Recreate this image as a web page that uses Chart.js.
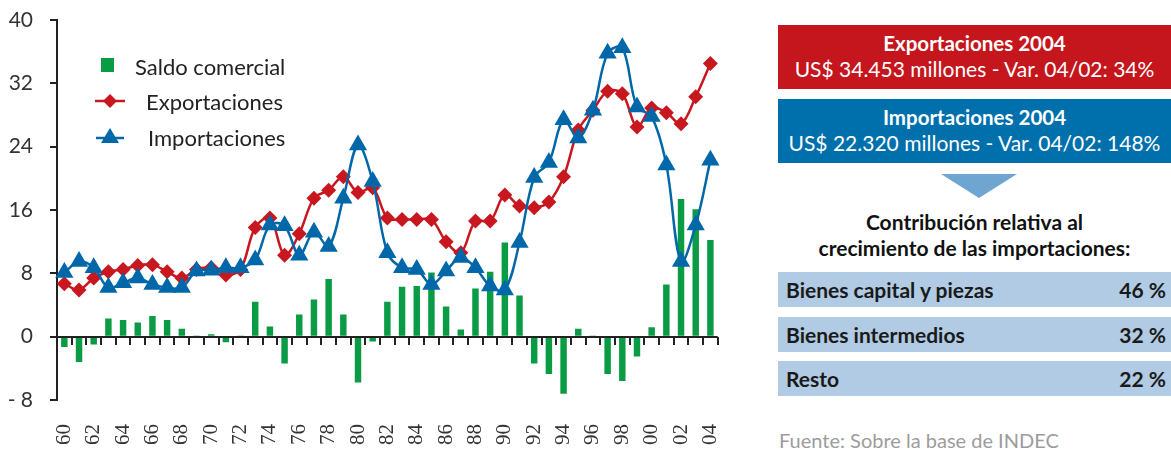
<!DOCTYPE html>
<html>
<head>
<meta charset="utf-8">
<script src="https://cdn.jsdelivr.net/npm/chart.js@4"></script>
<style>
  html, body { margin: 0; padding: 0; background: #fff; }
  body { width: 1171px; height: 450px; position: relative; overflow: hidden; font-family: Lato, "Noto Sans", sans-serif; }
  #chartBox { position: absolute; left: 0; top: 0; width: 760px; height: 450px; }
  .legend { position: absolute; left: 92px; top: 50px; font-size: 22px; color: #222; }
  .legend .item { position: absolute; left: 0; white-space: nowrap; height: 30px; }
  .legend svg { position: absolute; left: 0; top: 0; }
  .legend span { position: absolute; top: 1px; }
  .panel { position: absolute; left: 778px; top: 0; width: 393px; height: 450px; }
  .box { position: absolute; left: 0; width: 393px; height: 64px; color: #fff; text-align: center; }
  .box .t { font-weight: bold; font-size: 20.5px; line-height: 26px; margin-top: 5px; }
  .box .s { font-size: 21px; line-height: 26px; }
  .red { top: 25px; background: #C4161C; }
  .blue { top: 99px; background: #0070AD; }
  .arrow { position: absolute; left: 163px; top: 174px; width: 0; height: 0;
           border-left: 38px solid transparent; border-right: 38px solid transparent; border-top: 24px solid #6FA6D1; }
  .contrib { position: absolute; left: 0; top: 209px; width: 393px; text-align: center; font-weight: bold; font-size: 21px; line-height: 26px; color: #111; }
  .row { position: absolute; left: 0; width: 393px; height: 35px; background: #B0CBE3; font-weight: bold; font-size: 21px; color: #1a1a1a; }
  .row .l { position: absolute; left: 8px; top: 5px; }
  .row .r { position: absolute; right: 5px; top: 5px; }
  .src { position: absolute; left: 1px; top: 428px; font-size: 20px; color: #9c9c9c; white-space: nowrap; }
</style>
</head>
<body>
<div id="chartBox"><canvas id="chart"></canvas></div>

<div class="legend">
  <div class="item" style="top:2px">
    <svg width="40" height="30"><rect x="9" y="6" width="13" height="14" fill="#0A9B45"/></svg>
    <span style="left:43px">Saldo comercial</span>
  </div>
  <div class="item" style="top:37px">
    <svg width="40" height="30"><line x1="3" y1="14" x2="33" y2="14" stroke="#C8171F" stroke-width="2.5"/><polygon points="18,7 25,14 18,21 11,14" fill="#C8171F"/></svg>
    <span style="left:54px">Exportaciones</span>
  </div>
  <div class="item" style="top:73px">
    <svg width="40" height="30"><line x1="4" y1="15" x2="32" y2="15" stroke="#0067A9" stroke-width="2.5"/><polygon points="18,5 27,20 9,20" fill="#0067A9"/></svg>
    <span style="left:56px">Importaciones</span>
  </div>
</div>

<div class="panel">
  <div class="box red">
    <div class="t">Exportaciones 2004</div>
    <div class="s">US$ 34.453 millones - Var. 04/02: 34%</div>
  </div>
  <div class="box blue">
    <div class="t">Importaciones 2004</div>
    <div class="s">US$ 22.320 millones - Var. 04/02: 148%</div>
  </div>
  <div class="arrow"></div>
  <div class="contrib">Contribución relativa al<br>crecimiento de las importaciones:</div>
  <div class="row" style="top:272px"><span class="l">Bienes capital y piezas</span><span class="r">46 %</span></div>
  <div class="row" style="top:317px"><span class="l">Bienes intermedios</span><span class="r">32 %</span></div>
  <div class="row" style="top:361px"><span class="l">Resto</span><span class="r">22 %</span></div>
  <div class="src">Fuente: Sobre la base de INDEC</div>
</div>

<script>
// Years 1960-2004, two-digit labels
const years = ['60','61','62','63','64','65','66','67','68','69',
               '70','71','72','73','74','75','76','77','78','79',
               '80','81','82','83','84','85','86','87','88','89',
               '90','91','92','93','94','95','96','97','98','99',
               '00','01','02','03','04'];

// Saldo comercial (US$ miles de millones)
const saldo = [-1.3, -3.2, -1.0, 2.3, 2.1, 1.8, 2.6, 2.1, 1.0, 0.1,
               0.3, -0.7, 0.1, 4.4, 1.3, -3.4, 2.8, 4.7, 7.3, 2.8,
               -5.8, -0.6, 4.4, 6.3, 6.4, 8.1, 3.8, 0.9, 6.1, 8.2,
               11.9, 5.2, -3.4, -4.7, -7.2, 1.0, 0.1, -4.7, -5.6, -2.5,
               1.2, 6.6, 17.4, 16.1, 12.2];

const exportaciones = [6.7, 5.9, 7.4, 8.2, 8.5, 9.0, 9.1, 8.2, 7.4, 8.5,
                       8.7, 7.8, 8.5, 13.8, 15.0, 10.3, 13.0, 17.5, 18.5, 20.2,
                       18.2, 18.8, 15.0, 14.8, 14.8, 14.8, 12.0, 10.6, 14.6, 14.6,
                       17.9, 16.5, 16.3, 17.0, 20.2, 26.1, 28.6, 31.0, 30.7, 26.5,
                       28.9, 28.3, 26.9, 30.3, 34.5];

const importaciones = [8.1, 9.5, 8.7, 6.2, 6.8, 7.4, 6.6, 6.2, 6.2, 8.3,
                       8.4, 8.7, 8.7, 9.7, 14.1, 14.0, 10.3, 13.2, 11.4, 17.5,
                       24.2, 19.6, 10.6, 8.7, 8.5, 6.6, 8.3, 10.0, 8.7, 6.4,
                       5.9, 11.9, 20.1, 22.0, 27.4, 25.1, 28.6, 35.8, 36.5, 29.0,
                       27.8, 21.7, 9.5, 14.1, 22.3];

const yTicks = [-8, 0, 8, 16, 24, 32, 40];

// Zero line with tick marks at category boundaries
const zeroAxis = {
    id: 'zeroAxis',
    afterDatasetsDraw(chart) {
        const x = chart.scales.x;
        const y = chart.scales.y;
        const ctx = chart.ctx;
        const y0 = Math.round(y.getPixelForValue(0));
        const left = chart.chartArea.left;
        const right = chart.chartArea.right;
        ctx.save();
        ctx.strokeStyle = '#222';
        ctx.lineWidth = 2;
        ctx.beginPath();
        ctx.moveTo(left, y0);
        ctx.lineTo(right, y0);
        for (let i = 1; i <= years.length; i++) {
            let px = i < years.length
                ? (x.getPixelForValue(i - 1) + x.getPixelForValue(i)) / 2
                : right;
            px = Math.round(px);
            ctx.moveTo(px, y0);
            ctx.lineTo(px, y0 + 8);
        }
        ctx.stroke();
        ctx.restore();
    }
};

new Chart(document.getElementById('chart'), {
    type: 'bar',
    data: {
        labels: years,
        datasets: [
            {
                type: 'line',
                label: 'Importaciones',
                data: importaciones,
                borderColor: '#0067A9',
                backgroundColor: '#0067A9',
                borderWidth: 2.5,
                tension: 0.35,
                pointStyle: 'triangle',
                pointRadius: 10.5,
                pointBorderWidth: 0,
                order: 1
            },
            {
                type: 'line',
                label: 'Exportaciones',
                data: exportaciones,
                borderColor: '#C8171F',
                backgroundColor: '#C8171F',
                borderWidth: 2.5,
                tension: 0.35,
                pointStyle: 'rectRot',
                pointRadius: 7.5,
                pointBorderWidth: 0,
                order: 2
            },
            {
                label: 'Saldo comercial',
                data: saldo,
                backgroundColor: '#0A9B45',
                barPercentage: 0.44,
                categoryPercentage: 1,
                order: 3
            }
        ]
    },
    options: {
        responsive: true,
        maintainAspectRatio: false,
        animation: false,
        layout: { padding: { top: 20, right: 36, left: 0, bottom: 0 } },
        plugins: { legend: { display: false }, tooltip: { enabled: false } },
        scales: {
            x: {
                grid: { display: false, drawTicks: false },
                border: { display: false },
                afterFit: (s) => { s.height = 50; },
                ticks: {
                    autoSkip: false,
                    maxRotation: 90,
                    minRotation: 90,
                    padding: 24,
                    color: '#333',
                    font: { family: '"Liberation Serif", serif', size: 21 },
                    callback: (v, i) => (i % 2 === 0 ? years[i] : '')
                }
            },
            y: {
                min: -8,
                max: 40,
                afterFit: (s) => { s.width = 57; s.paddingTop = 10; s.paddingBottom = 10; },
                afterBuildTicks: (s) => { s.ticks = yTicks.map(v => ({ value: v })); },
                grid: { drawOnChartArea: false, tickLength: 7, color: '#222', lineWidth: 2 },
                border: { color: '#222', width: 2 },
                ticks: {
                    padding: 17,
                    color: '#333',
                    font: { family: 'Lato, sans-serif', size: 21 },
                    callback: (v) => (v === -8 ? '- 8' : v)
                }
            }
        }
    },
    plugins: [zeroAxis]
});
</script>
</body>
</html>
